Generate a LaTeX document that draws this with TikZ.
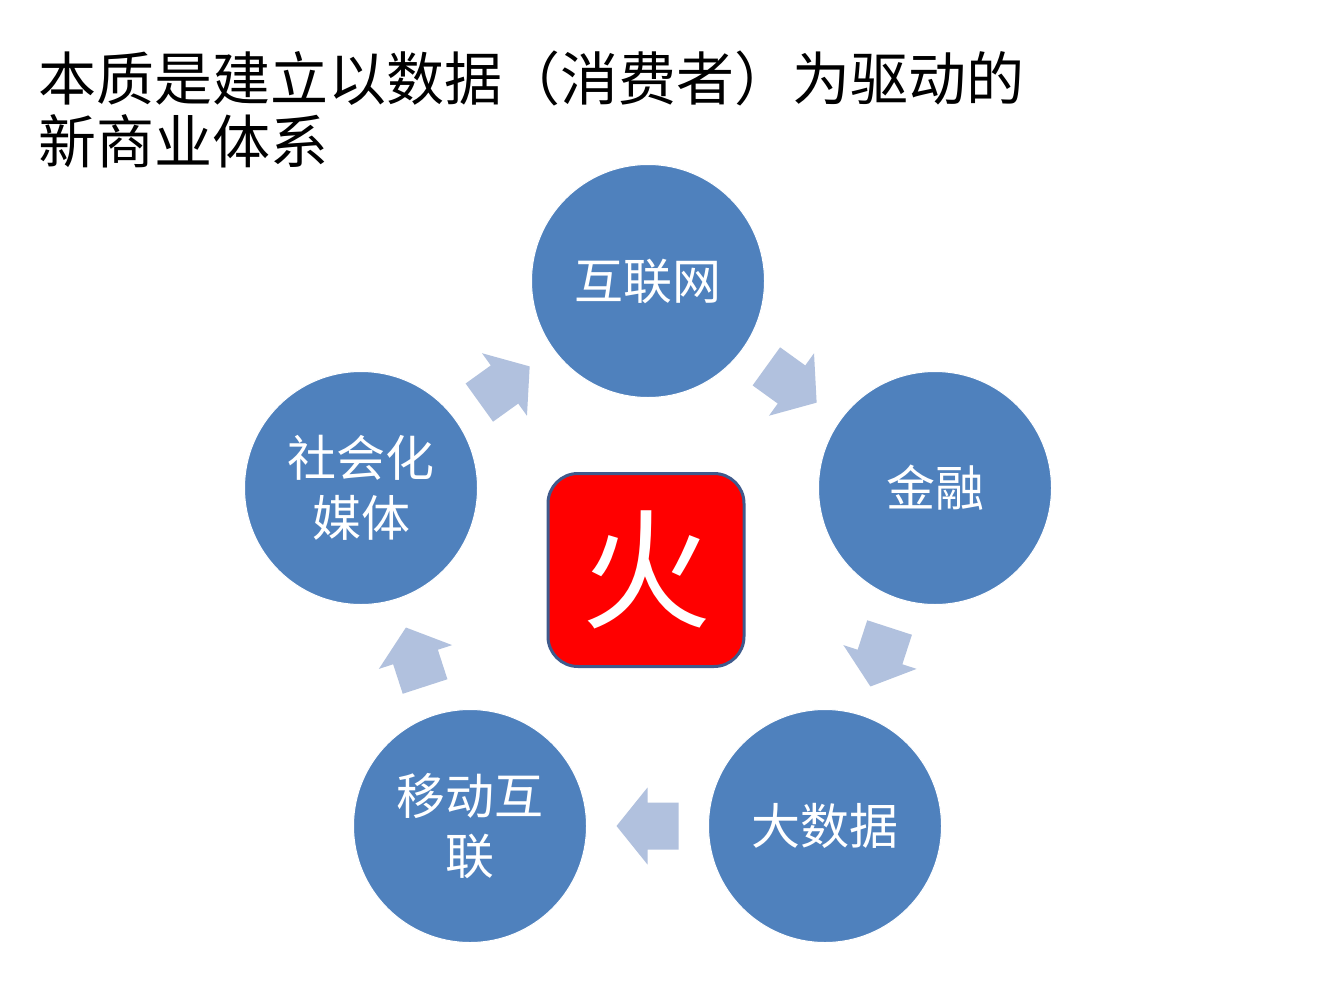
\documentclass[tikz,border=0pt]{standalone}
\usepackage{fontspec}
\newfontfamily\cjk{Noto Sans CJK SC}
\usetikzlibrary{calc}
\definecolor{circblue}{HTML}{4F81BD}
\definecolor{arrowblue}{HTML}{B1C1DE}
\definecolor{boxedge}{HTML}{3F5A8C}
\definecolor{firered}{HTML}{FF0000}
\tikzset{
  circ/.style={circle, fill=circblue, draw=white, line width=1pt, minimum size=233pt,
    inner sep=0pt, text=white, font=\cjk\fontsize{49}{60}\selectfont, align=center},
  titletext/.style={anchor=west, inner sep=0pt, font=\cjk\fontsize{58}{62}\selectfont},
  firebox/.style={rectangle, rounded corners=30pt, fill=firered, draw=boxedge, line width=3pt,
    minimum width=196pt, minimum height=193pt, inner sep=0pt, text=white,
    font=\cjk\fontsize{130}{130}\selectfont},
  pics/cyclearrow/.style={code={
    \fill[arrowblue] (-31,-23.5) -- (0,-23.5) -- (0,-38.5) -- (31,0) -- (0,38.5) -- (0,23.5) -- (-31,23.5) -- cycle;}}
}
\begin{document}
\begin{tikzpicture}[x=1pt,y=-1pt]
\useasboundingbox[fill=white] (0,0) rectangle (1320,990);
\node[titletext] (t1) at (38,78) {本质是建立以数据（消费者）为驱动的};
\node[titletext] (t2) at (38,141) {新商业体系};
\node[circ] (n1) at (648,281) {互联网};
\node[circ] (n2) at (935,488) {金融};
\node[circ] (n3) at (825,826) {大数据};
\node[circ] (n4) at (470,826) {移动互\\联};
\node[circ] (n5) at (361,488) {社会化\\媒体};
\node[firebox] (fire) at (646,570) {火};
\pic[rotate=-35.8] at ($(n1)!0.5!(n2)$) {cyclearrow};
\pic[rotate=-108] at ($(n2)!0.5!(n3)$) {cyclearrow};
\pic[rotate=180] at ($(n3)!0.5!(n4)$) {cyclearrow};
\pic[rotate=108] at ($(n4)!0.5!(n5)$) {cyclearrow};
\pic[rotate=35.7] at ($(n5)!0.5!(n1)$) {cyclearrow};
\end{tikzpicture}
\end{document}
